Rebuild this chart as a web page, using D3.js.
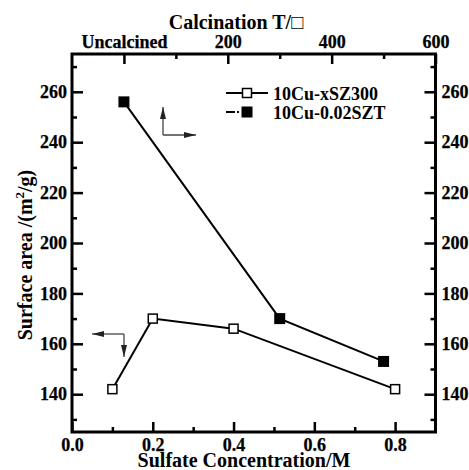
<!DOCTYPE html>
<html>
<head>
<meta charset="utf-8">
<script src="https://cdn.jsdelivr.net/npm/d3@7"></script>
<style>
  body { margin: 0; background: #fff; }
  svg text { font-family: "Liberation Serif", "Times New Roman", serif; font-weight: bold; fill: #000; }
</style>
</head>
<body>
<div id="chart"></div>
<script>
// 10Cu-xSZ300 : bottom axis (sulfate concentration) vs left axis
var sulfateConc = [0.1, 0.2, 0.4, 0.8];
var areaSulfate = [142, 170, 166, 142];
// 10Cu-0.02SZT : top axis (calcination T, 0 = uncalcined) vs right axis
var calcTemp = [0, 300, 500];
var areaCalc = [256, 170, 153];

var seriesNames = ["10Cu-xSZ300", "10Cu-0.02SZT"];
var bottomTicks = [0, 0.2, 0.4, 0.6, 0.8];
var bottomMinor = [0.1, 0.3, 0.5, 0.7];
var topTicks = [0, 200, 400, 600];
var topMinor = [100, 300, 500];
var yTicks = [140, 160, 180, 200, 220, 240, 260];
var yMinor = [130, 150, 170, 190, 210, 230, 250, 270];

var W = 469, H = 470;
var L = 72, R = 435.5, T = 54, B = 432;

var svg = d3.select("#chart").append("svg")
    .attr("width", W).attr("height", H);

var x = d3.scaleLinear().domain([0, 0.9]).range([L, R]);
var xTop = d3.scaleLinear().domain([-100, 600]).range([L, R]);
var y = d3.scaleLinear().domain([125, 275]).range([B, T]);

function styleAxis(g) {
  g.attr("font-family", null).attr("font-size", null);
  g.select(".domain").remove();
  g.selectAll(".tick line").attr("stroke", "#000").attr("stroke-width", 2.5);
  g.selectAll(".tick text").attr("fill", null)
    .style("font-size", "18px")
    .style("stroke", "#000").style("stroke-width", "0.25px");
}

// bottom axis
svg.append("g").attr("transform", "translate(0," + B + ")")
  .call(d3.axisBottom(x).tickValues(bottomTicks).tickFormat(d3.format(".1f"))
        .tickSizeInner(-10).tickSizeOuter(0).tickPadding(6))
  .call(styleAxis);
svg.append("g").attr("transform", "translate(0," + B + ")")
  .call(d3.axisBottom(x).tickValues(bottomMinor).tickFormat("")
        .tickSizeInner(-5).tickSizeOuter(0))
  .call(styleAxis);

// top axis
svg.append("g").attr("transform", "translate(0," + T + ")")
  .call(d3.axisTop(xTop).tickValues(topTicks)
        .tickFormat(function(d){ return d === 0 ? "Uncalcined" : d; })
        .tickSizeInner(-10).tickSizeOuter(0).tickPadding(6))
  .call(styleAxis);
svg.append("g").attr("transform", "translate(0," + T + ")")
  .call(d3.axisTop(xTop).tickValues(topMinor).tickFormat("")
        .tickSizeInner(-5).tickSizeOuter(0))
  .call(styleAxis);

// left axis
svg.append("g").attr("transform", "translate(" + L + ",0)")
  .call(d3.axisLeft(y).tickValues(yTicks)
        .tickSizeInner(-11).tickSizeOuter(0).tickPadding(5))
  .call(styleAxis);
svg.append("g").attr("transform", "translate(" + L + ",0)")
  .call(d3.axisLeft(y).tickValues(yMinor).tickFormat("")
        .tickSizeInner(-5).tickSizeOuter(0))
  .call(styleAxis);

// right axis
svg.append("g").attr("transform", "translate(" + R + ",0)")
  .call(d3.axisRight(y).tickValues(yTicks)
        .tickSizeInner(-11).tickSizeOuter(0).tickPadding(6))
  .call(styleAxis);
svg.append("g").attr("transform", "translate(" + R + ",0)")
  .call(d3.axisRight(y).tickValues(yMinor).tickFormat("")
        .tickSizeInner(-5).tickSizeOuter(0))
  .call(styleAxis);

// frame
svg.append("rect")
  .attr("x", L).attr("y", T).attr("width", R - L).attr("height", B - T)
  .attr("fill", "none").attr("stroke", "#000").attr("stroke-width", 3);

// axis titles
svg.append("text").attr("x", 236).attr("y", 29).attr("text-anchor", "middle")
  .style("font-size", "20px").text("Calcination T/\u25A1");
svg.append("text").attr("x", 244).attr("y", 467).attr("text-anchor", "middle")
  .style("font-size", "20px").text("Sulfate Concentration/M");
var yl = svg.append("text").attr("transform", "translate(32,255) rotate(-90)")
  .attr("text-anchor", "middle").style("font-size", "20px");
yl.append("tspan").text("Surface area /(m");
yl.append("tspan").attr("dy", -8).style("font-size", "13px").text("2");
yl.append("tspan").attr("dy", 8).text("/g)");

// series lines
var pts1 = d3.zip(sulfateConc, areaSulfate);
var pts2 = d3.zip(calcTemp, areaCalc);
var line1 = d3.line().x(function(d){ return x(d[0]); }).y(function(d){ return y(d[1]); });
var line2 = d3.line().x(function(d){ return xTop(d[0]); }).y(function(d){ return y(d[1]); });

svg.append("path").attr("d", line1(pts1)).attr("fill", "none")
  .attr("stroke", "#000").attr("stroke-width", 2);
svg.append("path").attr("d", line2(pts2)).attr("fill", "none")
  .attr("stroke", "#000").attr("stroke-width", 2);

svg.selectAll(".open").data(pts1).enter().append("rect")
  .attr("x", function(d){ return x(d[0]) - 4.5; })
  .attr("y", function(d){ return y(d[1]) - 4.5; })
  .attr("width", 9).attr("height", 9)
  .attr("fill", "#fff").attr("stroke", "#000").attr("stroke-width", 1.5);
svg.selectAll(".filled").data(pts2).enter().append("rect")
  .attr("x", function(d){ return xTop(d[0]) - 5.5; })
  .attr("y", function(d){ return y(d[1]) - 5.5; })
  .attr("width", 11).attr("height", 11)
  .attr("fill", "#000");

// legend
var lg = svg.append("g");
lg.append("line").attr("x1", 226).attr("x2", 268).attr("y1", 93).attr("y2", 93)
  .attr("stroke", "#000").attr("stroke-width", 2);
lg.append("rect").attr("x", 242.5).attr("y", 88.5).attr("width", 9).attr("height", 9)
  .attr("fill", "#fff").attr("stroke", "#000").attr("stroke-width", 1.5);
lg.append("text").attr("x", 273).attr("y", 99.5).style("font-size", "18px").text(seriesNames[0]);
lg.append("line").attr("x1", 226).attr("x2", 268).attr("y1", 112).attr("y2", 112)
  .attr("stroke", "#000").attr("stroke-width", 2).attr("stroke-dasharray", "9,2,2,30");
lg.append("rect").attr("x", 241.5).attr("y", 106.5).attr("width", 11).attr("height", 11)
  .attr("fill", "#000");
lg.append("text").attr("x", 273).attr("y", 118.5).style("font-size", "18px").text(seriesNames[1]);

// direction arrows
svg.append("defs").append("marker").attr("id", "ah")
  .attr("viewBox", "0 0 12 6").attr("refX", 12).attr("refY", 3)
  .attr("markerWidth", 12).attr("markerHeight", 6).attr("markerUnits", "userSpaceOnUse")
  .attr("orient", "auto")
  .append("path").attr("d", "M0,0L12,3L0,6Z").attr("fill", "#222");

function arrow(x1, y1, x2, y2) {
  svg.append("line").attr("x1", x1).attr("y1", y1).attr("x2", x2).attr("y2", y2)
    .attr("stroke", "#444").attr("stroke-width", 1.3).attr("marker-end", "url(#ah)");
}
arrow(163, 135, 163, 107);
arrow(163, 135, 196, 135);
arrow(124, 334, 92, 334);
arrow(124, 334, 124, 357);
</script>
</body>
</html>
